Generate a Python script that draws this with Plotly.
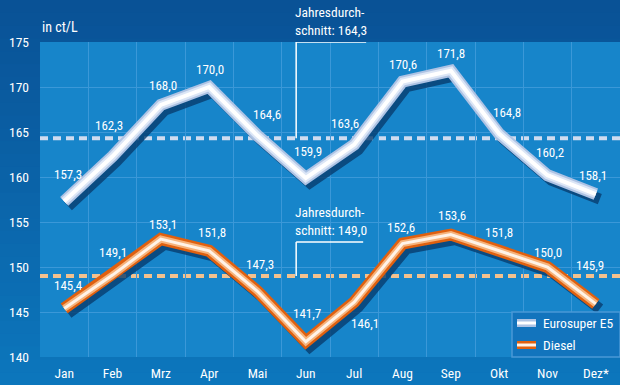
import plotly.graph_objects as go

months = ["Jan", "Feb", "Mrz", "Apr", "Mai", "Jun", "Jul", "Aug", "Sep", "Okt", "Nov", "Dez*"]
e5 = [157.3, 162.3, 168.0, 170.0, 164.6, 159.9, 163.6, 170.6, 171.8, 164.8, 160.2, 158.1]
diesel = [145.4, 149.1, 153.1, 151.8, 147.3, 141.7, 146.1, 152.6, 153.6, 151.8, 150.0, 145.9]
avg_e5 = 164.3
avg_diesel = 149.0
y_ticks = [140, 145, 150, 155, 160, 165, 170, 175]
unit_label = "in ct/L"
series_names = ["Eurosuper E5", "Diesel"]

# label pixel offsets (layout only)
e5_shift = [(4, 27), (-4, 31), (2, 20), (1, 18), (9, 21), (2, 26), (-9, 21), (0, 17), (0, 17), (8, 21), (2, 23), (-3, 19)]
di_shift = [(4, 23), (0, 23), (2, 15), (3, 18), (2, 27), (1, 28), (11, -21), (-2, 16), (1, 19), (0, 18), (0, 15), (-6, 38)]

FONT = "Roboto Condensed, Liberation Sans Narrow, Arial Narrow, Liberation Sans, Arial, sans-serif"
W, H = 620, 385
ML, MR, MT, MB = 40, 0, 42, 28
PW, PH = W - ML - MR, H - MT - MB
YMIN, YMAX = 140, 175

x = list(range(len(months)))
px_per_unit = PH / (YMAX - YMIN)
px_per_cat = PW / len(months)
sdx = 4 / px_per_cat
sdy = 5 / px_per_unit

fig = go.Figure()


def add_line(vals, layers, name):
    fig.add_trace(go.Scatter(x=[v + sdx for v in x], y=[v - sdy for v in vals], mode="lines",
                             line=dict(color="rgba(8,60,110,0.8)", width=11),
                             hoverinfo="skip", showlegend=False))
    for col, w in layers:
        fig.add_trace(go.Scatter(x=x, y=vals, mode="lines", name=name,
                                 line=dict(color=col, width=w), showlegend=False))


add_line(e5, [("#aec3e4", 12), ("#dce6f6", 8), ("#ffffff", 4)], series_names[0])
add_line(diesel, [("#e0600f", 12), ("#f6b37c", 7), ("#fff3e8", 3)], series_names[1])

shapes = []
# background gradient
N = 30
ytop = 1 + MT / PH
ybot = -MB / PH
c0 = (9, 82, 150)
c1 = (12, 118, 188)
for i in range(N):
    t = i / (N - 1)
    col = "rgb(%d,%d,%d)" % tuple(round(a + (b - a) * t) for a, b in zip(c0, c1))
    y1 = ytop - (ytop - ybot) * i / N
    y0 = ytop - (ytop - ybot) * (i + 1) / N - 0.002
    shapes.append(dict(type="rect", xref="paper", yref="paper", x0=-ML / PW, x1=1 + MR / PW,
                       y0=y0, y1=y1, fillcolor=col, line=dict(width=0), layer="below"))
# plot area
shapes.append(dict(type="rect", xref="paper", yref="paper", x0=0, x1=1, y0=0, y1=1,
                   fillcolor="#1785ca", line=dict(width=0), layer="below"))
# average dashed lines
shapes.append(dict(type="line", xref="paper", yref="y", x0=0, x1=1, y0=avg_e5, y1=avg_e5,
                   line=dict(color="#cfdcf0", width=4, dash="8px,5px"), layer="below"))
shapes.append(dict(type="line", xref="paper", yref="y", x0=0, x1=1, y0=avg_diesel, y1=avg_diesel,
                   line=dict(color="#f3c18e", width=4, dash="8px,5px"), layer="below"))

# brackets for the average annotations
bx = x[5] - 0.2
d_top = YMAX - 200 / px_per_unit
for (ytop_b, ybase, bxe) in [(YMAX, avg_e5, bx + 70 / px_per_cat), (d_top, avg_diesel, bx + 67 / px_per_cat)]:
    shapes.append(dict(type="line", xref="x", yref="y", x0=bx, x1=bx, y0=ybase, y1=ytop_b,
                       line=dict(color="white", width=1.5)))
    shapes.append(dict(type="line", xref="x", yref="y", x0=bx, x1=bxe, y0=ytop_b, y1=ytop_b,
                       line=dict(color="white", width=1.5)))

# legend box
lx0 = (512 - ML) / PW
ly1 = (H - MB - 312) / PH
shapes.append(dict(type="rect", xref="paper", yref="paper", x0=lx0, x1=1.0, y0=0, y1=ly1,
                   fillcolor="#1274bd", line=dict(color="#4a98d6", width=1.5)))


def py(p):
    return (H - MB - p) / PH


def pxx(p):
    return (p - ML) / PW


for (ya, yb, outer, inner) in [(319, 327, "#aec3e4", "#ffffff"), (341, 349, "#e0600f", "#fff3e8")]:
    shapes.append(dict(type="rect", xref="paper", yref="paper", x0=pxx(517), x1=pxx(536),
                       y0=py(yb), y1=py(ya), fillcolor=outer, line=dict(width=0)))
    shapes.append(dict(type="rect", xref="paper", yref="paper", x0=pxx(517), x1=pxx(536),
                       y0=py(yb - 2.5), y1=py(ya + 2.5), fillcolor=inner, line=dict(width=0)))

ann = []


def fmt(v):
    return f"{v:.1f}".replace(".", ",")


for vals, shifts in [(e5, e5_shift), (diesel, di_shift)]:
    for xi, v, (dx, dy) in zip(x, vals, shifts):
        ann.append(dict(x=xi, y=v, xref="x", yref="y", text=fmt(v), showarrow=False,
                        xshift=dx, yshift=dy, font=dict(color="white", size=13, family=FONT)))

for ytop_b, avg in [(YMAX, avg_e5), (d_top, avg_diesel)]:
    ann.append(dict(x=bx, y=ytop_b, xref="x", yref="y", xanchor="left", yanchor="bottom",
                    align="left", yshift=2, xshift=-3,
                    text="Jahresdurch-<br>schnitt: " + fmt(avg), showarrow=False,
                    font=dict(color="white", size=13.5, family=FONT)))

ann.append(dict(x=0, y=1, xref="paper", yref="paper", xanchor="left", yanchor="bottom", yshift=5,
                text=unit_label, showarrow=False, font=dict(color="white", size=14, family=FONT)))

for name, yc in zip(series_names, [323, 345]):
    ann.append(dict(x=pxx(541), y=py(yc), xref="paper", yref="paper", xanchor="left", yanchor="middle",
                    text=name, showarrow=False, font=dict(color="white", size=13.5, family=FONT)))

fig.update_layout(
    width=W, height=H,
    margin=dict(l=ML, r=MR, t=MT, b=MB, pad=0),
    paper_bgcolor="#0b66ab",
    plot_bgcolor="rgba(0,0,0,0)",
    showlegend=False,
    shapes=shapes,
    annotations=ann,
    font=dict(family=FONT, color="white", size=13),
    xaxis=dict(range=[-0.5, len(months) - 0.5], tickmode="array", tickvals=x, ticktext=months,
               showgrid=False, zeroline=False, showline=False, ticks="", ticklabelstandoff=6,
               tickfont=dict(size=13.5, color="white", family=FONT),
               minor=dict(tickmode="array", tickvals=[i + 0.5 for i in x[:-1]], showgrid=True,
                          gridcolor="#3b98d8", gridwidth=1, ticks="")),
    yaxis=dict(range=[YMIN, YMAX], tickmode="array", tickvals=y_ticks,
               showgrid=True, gridcolor="#3b98d8", gridwidth=1, zeroline=False, showline=False,
               ticks="", ticklabelstandoff=10,
               tickfont=dict(size=13.5, color="white", family=FONT)),
)

fig.write_html("out.html", config={"displayModeBar": False},
               post_script="document.body.style.margin='0';document.body.style.padding='0';")
